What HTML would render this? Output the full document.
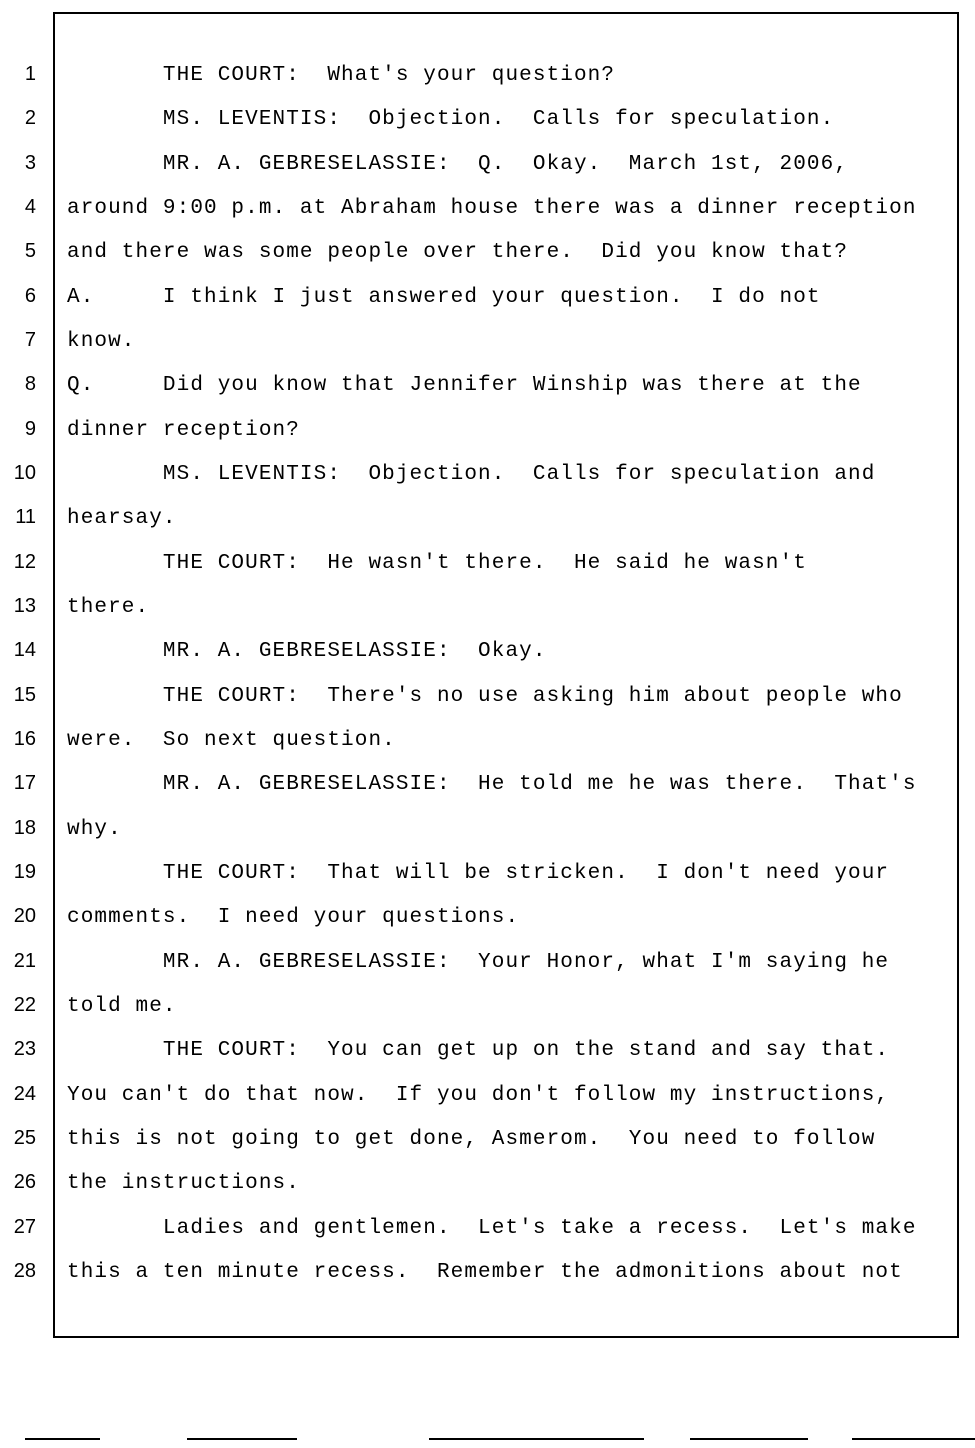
<!DOCTYPE html>
<html><head><meta charset="utf-8"><style>
html,body{margin:0;padding:0;background:#fff;}
body{width:975px;height:1448px;position:relative;overflow:hidden;}
.box{position:absolute;left:53px;top:12px;width:902px;height:1322px;border:2px solid #000;}
.ln{position:absolute;left:0;width:36px;text-align:right;font-family:"Liberation Sans",sans-serif;font-size:20px;color:#000;}
.tx{position:absolute;left:67px;font-family:"Liberation Mono",monospace;font-size:21px;letter-spacing:1.1px;white-space:pre;color:#000;}
.bl{position:absolute;top:1438px;height:2px;background:#000;}
</style></head><body>
<div class="box"></div>
<div id="c"></div>
<div class="bl" style="left:25px;width:75px"></div>
<div class="bl" style="left:187px;width:110px"></div>
<div class="bl" style="left:429px;width:215px"></div>
<div class="bl" style="left:690px;width:118px"></div>
<div class="bl" style="left:852px;width:123px"></div>
<script>
var L=[
"       THE COURT:  What's your question?",
"       MS. LEVENTIS:  Objection.  Calls for speculation.",
"       MR. A. GEBRESELASSIE:  Q.  Okay.  March 1st, 2006,",
"around 9:00 p.m. at Abraham house there was a dinner reception",
"and there was some people over there.  Did you know that?",
"A.     I think I just answered your question.  I do not",
"know.",
"Q.     Did you know that Jennifer Winship was there at the",
"dinner reception?",
"       MS. LEVENTIS:  Objection.  Calls for speculation and",
"hearsay.",
"       THE COURT:  He wasn't there.  He said he wasn't",
"there.",
"       MR. A. GEBRESELASSIE:  Okay.",
"       THE COURT:  There's no use asking him about people who",
"were.  So next question.",
"       MR. A. GEBRESELASSIE:  He told me he was there.  That's",
"why.",
"       THE COURT:  That will be stricken.  I don't need your",
"comments.  I need your questions.",
"       MR. A. GEBRESELASSIE:  Your Honor, what I'm saying he",
"told me.",
"       THE COURT:  You can get up on the stand and say that.",
"You can't do that now.  If you don't follow my instructions,",
"this is not going to get done, Asmerom.  You need to follow",
"the instructions.",
"       Ladies and gentlemen.  Let's take a recess.  Let's make",
"this a ten minute recess.  Remember the admonitions about not"];
var h="";
for(var i=0;i<28;i++){var y=74+i*44.33;
h+='<div class="ln" style="top:'+(y-11)+'px">'+(i+1)+'</div>';
var t=L[i].replace(/&/g,"&amp;").replace(/</g,"&lt;");
h+='<div class="tx" style="top:'+(y-10)+'px">'+t+'</div>';}
document.getElementById("c").innerHTML=h;
</script>
</body></html>
